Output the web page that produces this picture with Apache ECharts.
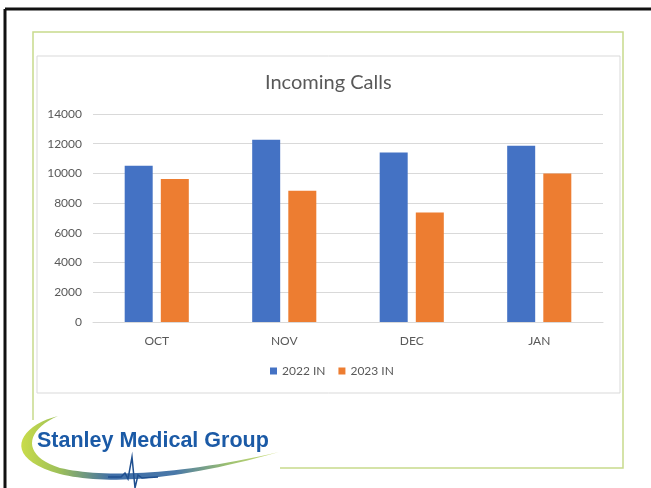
<!DOCTYPE html>
<html>
<head>
<meta charset="UTF-8">
<title>Incoming Calls</title>
<script src="https://cdn.jsdelivr.net/npm/echarts@6/dist/echarts.min.js"></script>
<style>
  html, body { margin: 0; padding: 0; background: #fff; }
  #main { width: 651px; height: 488px; }
</style>
</head>
<body>
<div id="main"></div>
<script>
var months = ['OCT', 'NOV', 'DEC', 'JAN'];
var seriesNames = ['2022 IN', '2023 IN'];
var in2022 = [10520, 12270, 11410, 11860];
var in2023 = [9620, 8830, 7370, 9990];
var yTicks = [0, 2000, 4000, 6000, 8000, 10000, 12000, 14000];

var chart = echarts.init(document.getElementById('main'));
var textGray = '#595959';
var font = 'Lato, "Open Sans", sans-serif';

// logo swoosh outline (cubic bezier segments sampled into a polygon)
function bez(p0, p1, p2, p3, n) {
  var pts = [];
  for (var i = 0; i <= n; i++) {
    var t = i / n, u = 1 - t;
    pts.push([
      u * u * u * p0[0] + 3 * u * u * t * p1[0] + 3 * u * t * t * p2[0] + t * t * t * p3[0],
      u * u * u * p0[1] + 3 * u * u * t * p1[1] + 3 * u * t * t * p2[1] + t * t * t * p3[1]
    ]);
  }
  return pts;
}
var swoosh = []
  .concat(bez([58, 416], [18, 426], [0, 458], [60, 474], 20))
  .concat(bez([60, 474], [100, 484], [170, 483], [279, 452], 30))
  .concat(bez([279, 452], [170, 477], [100, 477], [60, 468], 30))
  .concat(bez([60, 468], [22, 456], [24, 431], [58, 416], 20));

var option = {
  animation: false,
  backgroundColor: '#fff',
  color: ['#4472c4', '#ed7d31'],
  title: {
    text: 'Incoming Calls',
    left: 260,
    top: 68,
    textStyle: { color: textGray, fontSize: 20, fontWeight: 'normal', fontFamily: font }
  },
  legend: {
    data: seriesNames,
    left: 265,
    top: 360,
    itemWidth: 7,
    itemHeight: 7,
    itemGap: 13,
    icon: 'rect',
    textStyle: { color: textGray, fontSize: 12, fontFamily: font }
  },
  grid: { left: 93, right: 48, top: 114, bottom: 166 },
  xAxis: {
    type: 'category',
    data: months,
    axisLine: { lineStyle: { color: '#d9d9d9' } },
    axisTick: { show: false },
    axisLabel: { color: textGray, fontSize: 12, margin: 13, fontFamily: font }
  },
  yAxis: {
    type: 'value',
    min: yTicks[0],
    max: yTicks[yTicks.length - 1],
    interval: yTicks[1] - yTicks[0],
    axisLine: { show: false },
    axisTick: { show: false },
    splitLine: { lineStyle: { color: '#d9d9d9' } },
    axisLabel: {
      color: textGray, fontSize: 12, margin: 11, fontFamily: font,
      formatter: function (v) { return String(v); }
    }
  },
  series: [
    { name: seriesNames[0], type: 'bar', data: in2022, barWidth: 28, barGap: '29%' },
    { name: seriesNames[1], type: 'bar', data: in2023, barWidth: 28, barGap: '29%' }
  ],
  graphic: [
    // slide black edge
    { type: 'line', z: -1, shape: { x1: 5, y1: 9, x2: 651, y2: 9 }, style: { stroke: '#111', lineWidth: 3 } },
    { type: 'line', z: -1, shape: { x1: 5, y1: 9, x2: 5, y2: 488 }, style: { stroke: '#111', lineWidth: 3 } },
    // green frame
    { type: 'rect', z: -1, shape: { x: 33, y: 32, width: 590, height: 436 }, style: { fill: 'none', stroke: '#c8da8c', lineWidth: 1.5 } },
    // chart border
    { type: 'rect', z: -1, shape: { x: 37, y: 56, width: 583, height: 337 }, style: { fill: 'none', stroke: '#d9d9d9', lineWidth: 1 } },
    // logo background
    { type: 'rect', z: 10, shape: { x: 8, y: 420, width: 272, height: 68 }, style: { fill: '#fff' } },
    {
      type: 'polygon', z: 11,
      shape: { points: swoosh },
      style: {
        fill: {
          type: 'linear', x: 0, y: 0, x2: 1, y2: 0,
          colorStops: [
            { offset: 0, color: '#c9dc4a' },
            { offset: 0.15, color: '#9cbf5a' },
            { offset: 0.35, color: '#3f6ea8' },
            { offset: 0.6, color: '#4a78a8' },
            { offset: 0.8, color: '#9cc070' },
            { offset: 1, color: '#cfe07a' }
          ]
        }
      }
    },
    {
      type: 'polyline', z: 12,
      shape: { points: [[108, 477], [121, 477], [125, 473], [128, 479], [132, 457], [135, 488], [138, 475], [142, 478], [158, 477]] },
      style: { stroke: '#1f4f8f', lineWidth: 1.5, fill: 'none' }
    },
    {
      type: 'text', z: 12, left: 37, top: 430,
      style: { text: 'Stanley Medical Group', fill: '#1b5aa6', font: 'bold 21.5px "Liberation Sans", Arial, sans-serif' }
    }
  ]
};
chart.setOption(option);
</script>
</body>
</html>
